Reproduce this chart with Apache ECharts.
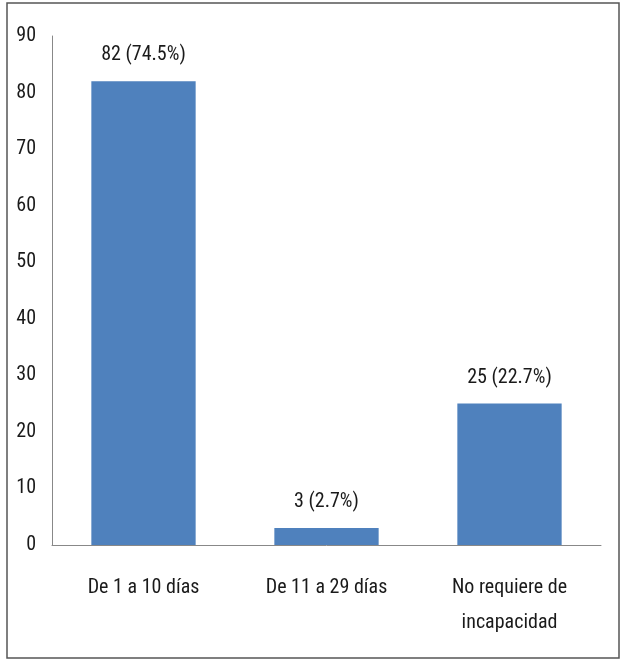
<!DOCTYPE html>
<html><head><meta charset="utf-8">
<script src="https://cdn.jsdelivr.net/npm/echarts@6/dist/echarts.min.js"></script>
<style>html,body{margin:0;padding:0;background:#fff}#c{width:623px;height:661px}</style>
</head><body><div id="c"></div>
<script>
const categories = ['De 1 a 10 días', 'De 11 a 29 días', 'No requiere de\nincapacidad'];
const counts = [82, 3, 25];
const percents = ['74.5%', '2.7%', '22.7%'];
const yTicks = [0, 10, 20, 30, 40, 50, 60, 70, 80, 90];

const FONT = '"Roboto Condensed", "Liberation Sans Narrow", sans-serif';
const chart = echarts.init(document.getElementById('c'));
chart.setOption({
  animation: false,
  graphic: [{
    type: 'rect', shape: {x: 7, y: 3, width: 612, height: 655},
    style: {fill: 'none', stroke: '#555', lineWidth: 1.5}, silent: true
  }],
  grid: {left: 52, right: 22, top: 36, bottom: 116},
  xAxis: {
    type: 'category', data: categories,
    axisLine: {lineStyle: {color: '#888'}},
    axisTick: {show: false},
    axisLabel: {fontFamily: FONT, fontSize: 20, color: '#1a1a1a', margin: 25, lineHeight: 35}
  },
  yAxis: {
    type: 'value', min: yTicks[0], max: yTicks[yTicks.length - 1], interval: 10,
    splitLine: {show: false},
    axisLine: {show: true, lineStyle: {color: '#888'}},
    axisTick: {show: false},
    axisLabel: {fontFamily: FONT, fontSize: 20, color: '#1a1a1a', margin: 16}
  },
  series: [{
    type: 'bar', data: counts, barCategoryGap: '43%',
    itemStyle: {color: '#4F81BD'},
    label: {
      show: true, position: 'top', distance: 16,
      fontFamily: FONT, fontSize: 20, color: '#1a1a1a',
      formatter: p => p.value + ' (' + percents[p.dataIndex] + ')'
    }
  }]
});
</script></body></html>
